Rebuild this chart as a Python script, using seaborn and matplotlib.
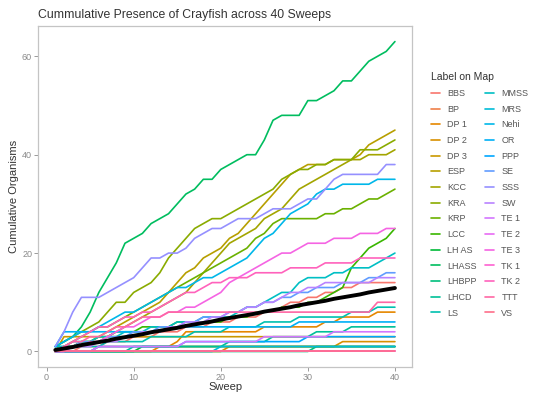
import numpy as np
import pandas as pd
import matplotlib
matplotlib.use("Agg")
import matplotlib.pyplot as plt
import seaborn as sns

# sweeps 1..40
sweeps = list(range(1, 41))

labels = ["BBS", "BP", "DP 1", "DP 2", "DP 3", "ESP", "KCC", "KRA", "KRP", "LCC",
          "LH AS", "LHASS", "LHBPP", "LHCD", "LS", "MMSS", "MRS", "Nehi", "OR", "PPP",
          "SE", "SSS", "SW", "TE 1", "TE 2", "TE 3", "TK 1", "TK 2", "TTT", "VS"]

# cumulative organisms per site
bbs = [0,0,0,1,1,1,2,2,2,3, 3,3,4,4,4,5,5,5,6,6, 6,7,7,7,8,8,9,10,10,11, 11,12,12,13,13,14,14,14,14,14]
bp = [0,0,0,0,0,1,1,1,1,1, 1,1,1,1,1,1,1,1,1,1, 1,1,1,1,1,1,1,1,1,1, 1,1,1,1,1,1,1,1,1,1]
dp1 = [0,0,0,0,0,0,0,0,0,0, 0,0,1,1,2,4,4,4,4,4, 4,4,4,4,5,5,5,5,5,5, 5,6,6,7,7,7,7,8,8,8]
dp2 = [0,0,0,0,0,0,0,0,0,0, 0,0,0,0,0,0,0,0,0,0, 1,1,1,1,1,1,1,1,1,1, 1,1,1,2,2,2,2,2,2,2]
dp3 = [0,3,3,3,3,3,3,3,3,3, 3,3,3,3,3,3,3,3,3,3, 3,3,3,3,3,3,3,3,3,3, 3,3,3,3,3,3,3,3,3,3]
esp = [0,1,1,2,2,3,4,5,6,7, 8,9,10,12,14,16,17,19,20,21, 23,24,26,28,30,32,34,36,37,38, 38,38,39,39,39,40,42,43,44,45]
kcc = [0,1,1,1,2,2,3,4,5,6, 7,8,9,10,11,12,14,16,18,20, 22,23,24,25,27,28,29,31,33,34, 35,36,37,38,39,39,40,40,40,41]
kra = [1,2,3,4,5,6,8,10,10,12, 13,14,16,19,21,23,25,26,27,27, 28,29,30,31,32,33,35,36,37,37, 38,38,39,39,39,41,41,41,42,43]
krp = [0,1,2,3,4,5,5,6,7,8, 9,10,11,12,13,14,15,16,17,18, 19,20,21,23,24,26,27,27,27,27, 27,28,28,29,29,30,31,31,32,33]
lcc = [0,1,1,2,2,3,3,4,4,4, 5,5,5,5,6,6,6,6,6,6, 7,7,7,8,8,8,9,9,9,10, 10,11,12,13,17,19,21,22,23,25]
lh_as = [0,0,0,0,0,0,0,0,0,0, 1,1,1,1,1,1,1,1,1,1, 1,1,1,1,1,1,1,1,1,1, 1,1,1,1,1,1,1,1,1,1]
lhass = [1,2,3,5,8,12,15,18,22,23, 24,26,27,28,30,32,33,35,35,37, 38,39,40,40,43,47,48,48,48,51, 51,52,53,55,55,57,59,60,61,63]
lhbpp = [0,0,0,0,0,0,0,0,0,0, 0,0,0,0,0,0,0,0,0,0, 0,0,0,0,0,0,0,0,0,0, 1,1,1,1,1,1,1,1,1,1]
lhcd = [0,0,0,0,0,0,0,0,0,1, 1,1,1,1,1,1,1,1,1,1, 2,2,2,2,2,3,3,3,3,3, 4,4,4,4,5,5,5,5,5,5]
ls = [1,1,1,1,1,1,2,2,2,2, 2,3,3,3,3,3,4,4,4,4, 5,5,5,5,6,6,6,6,7,7, 7,7,7,7,8,8,8,9,9,9]
mmss = [1,1,2,2,2,3,3,3,4,4, 4,5,5,5,6,6,6,7,7,7, 7,8,9,9,10,11,12,12,14,15, 15,15,16,16,17,17,17,18,19,20]
mrs = [0,0,0,0,0,0,0,0,0,0, 0,0,0,0,0,0,0,0,0,1, 1,1,1,1,1,1,1,1,1,1, 1,1,1,1,1,1,1,1,1,1]
nehi = [1,2,3,4,4,5,6,7,8,8, 9,10,11,12,13,13,14,15,15,16, 17,18,19,21,23,24,26,28,29,30, 32,33,33,34,34,34,34,35,35,35]
or_site = [1,4,4,4,4,4,4,4,4,4, 4,4,4,5,5,5,5,5,5,5, 5,5,5,5,5,5,5,5,6,6, 6,6,6,6,6,6,6,6,6,6]
ppp = [0,0,0,0,0,1,1,1,1,1, 1,1,1,1,1,2,2,2,2,2, 2,2,2,2,2,2,2,2,2,3, 3,3,3,3,3,3,3,3,3,3]
se = [0,1,1,2,2,2,3,3,3,4, 4,4,5,5,5,6,6,7,7,7, 8,8,9,9,10,10,11,11,12,12, 13,13,13,14,14,14,15,15,16,16]
sss = [1,4,8,11,11,11,12,13,14,15, 17,19,19,20,20,21,23,24,25,25, 26,27,27,27,28,29,29,29,30,31, 31,33,35,36,36,36,36,36,38,38]
sw = [0,0,1,1,1,2,2,2,3,3, 4,4,4,5,5,6,6,6,7,7, 8,8,9,9,10,10,11,12,12,13, 13,14,14,14,14,14,14,15,15,15]
te1 = [0,0,0,0,0,1,1,1,1,1, 1,1,1,1,1,2,2,2,2,2, 2,2,2,2,3,3,3,3,3,3, 3,3,4,4,4,4,4,4,4,4]
te2 = [0] * 40
te3 = [0,0,1,1,2,2,3,4,5,5, 6,7,7,8,8,9,9,10,11,12, 14,15,16,17,18,19,20,20,21,22, 22,22,23,23,23,24,24,24,25,25]
tk1 = [0] * 40
tk2 = [0,1,2,3,4,5,5,6,7,7, 8,8,9,10,11,12,12,13,14,14, 15,15,15,16,16,16,16,17,17,17, 17,18,18,18,18,19,19,19,19,19]
ttt = [0,1,2,2,3,3,4,5,5,6, 7,7,7,8,8,8,8,8,8,8, 8,8,8,8,8,8,8,8,8,8, 8,8,8,8,8,8,8,10,10,10]
vs = [0] * 40

# overall trend (thick black line)
trend = [0.3,0.6,0.9,1.3,1.6,1.9,2.2,2.6,2.9,3.2, 3.5,3.9,4.2,4.5,4.8,5.2,5.5,5.8,6.1,6.5,
         6.8,7.1,7.4,7.7,8.1,8.4,8.7,9.0,9.4,9.7, 10.0,10.3,10.7,11.0,11.3,11.6,12.0,12.3,12.6,12.9]

series = [bbs, bp, dp1, dp2, dp3, esp, kcc, kra, krp, lcc,
          lh_as, lhass, lhbpp, lhcd, ls, mmss, mrs, nehi, or_site, ppp,
          se, sss, sw, te1, te2, te3, tk1, tk2, ttt, vs]


def gg_hue(n, l=65, c=100):
    # ggplot2 default hue palette (HCL -> sRGB)
    hues = np.linspace(15, 375, n + 1)[:n]
    xn, yn, zn = 95.047, 100.0, 108.883
    un = 4 * xn / (xn + 15 * yn + 3 * zn)
    vn = 9 * yn / (xn + 15 * yn + 3 * zn)
    m = np.array([[3.240479, -1.537150, -0.498535],
                  [-0.969256, 1.875992, 0.041556],
                  [0.055648, -0.204043, 1.057311]])
    out = []
    for h in hues:
        u = c * np.cos(np.radians(h))
        v = c * np.sin(np.radians(h))
        y = yn * ((l + 16) / 116) ** 3
        up = u / (13 * l) + un
        vp = v / (13 * l) + vn
        x = 9 * y * up / (4 * vp)
        z = -x / 3 - 5 * y + 3 * y / vp
        rgb = m @ (np.array([x, y, z]) / 100)
        rgb = np.where(rgb > 0.0031308, 1.055 * np.abs(rgb) ** (1 / 2.4) - 0.055, 12.92 * rgb)
        out.append(tuple(np.clip(rgb, 0, 1)))
    return out


df = pd.DataFrame({
    "Sweep": np.tile(sweeps, len(labels)),
    "Organisms": np.concatenate(series),
    "Label on Map": np.repeat(labels, len(sweeps)),
})
trend_df = pd.DataFrame({"Sweep": sweeps, "Organisms": trend})

sns.set_style("white")
plt.rcParams["font.family"] = ["Liberation Sans", "DejaVu Sans"]

fig = plt.figure(figsize=(5.36, 3.95), dpi=100)
ax = fig.add_axes([0.0715, 0.071, 0.697, 0.863])

palette = gg_hue(len(labels))
sns.lineplot(data=df, x="Sweep", y="Organisms", hue="Label on Map",
             hue_order=labels, palette=palette, linewidth=1.2, ax=ax)
sns.lineplot(data=trend_df, x="Sweep", y="Organisms", color="black",
             linewidth=2.8, ax=ax, legend=False)

ax.set_xlim(-0.95, 41.95)
ax.set_ylim(-3.15, 66.15)
ax.set_xticks([0, 10, 20, 30, 40])
ax.set_yticks([0, 20, 40, 60])
ax.tick_params(axis="both", colors="#8a8a8a", labelsize=6.5, length=3, width=0.6,
               left=True, bottom=True, pad=1.5)
for s in ax.spines.values():
    s.set_color("#c4c4c4")
    s.set_linewidth(0.9)

ax.set_xlabel("Sweep", fontsize=8, color="#333333", labelpad=0)
ax.set_ylabel("Cumulative Organisms", fontsize=8, color="#333333", labelpad=2)
ax.set_title("Cummulative Presence of Crayfish across 40 Sweeps", fontsize=8.8,
             color="#333333", loc="left", x=0.0, pad=6)

handles, labs = ax.get_legend_handles_labels()
leg = ax.legend(handles, labs, title="Label on Map", ncol=2, frameon=False,
                loc="upper left", bbox_to_anchor=(1.03, 0.888), fontsize=6.5,
                title_fontsize=7.5, handlelength=1.0, handletextpad=0.8,
                columnspacing=0.9, labelspacing=0.74, alignment="left")
for t in leg.get_texts():
    t.set_color("#555555")
leg.get_title().set_color("#333333")

fig.savefig("out.png", dpi=100)
